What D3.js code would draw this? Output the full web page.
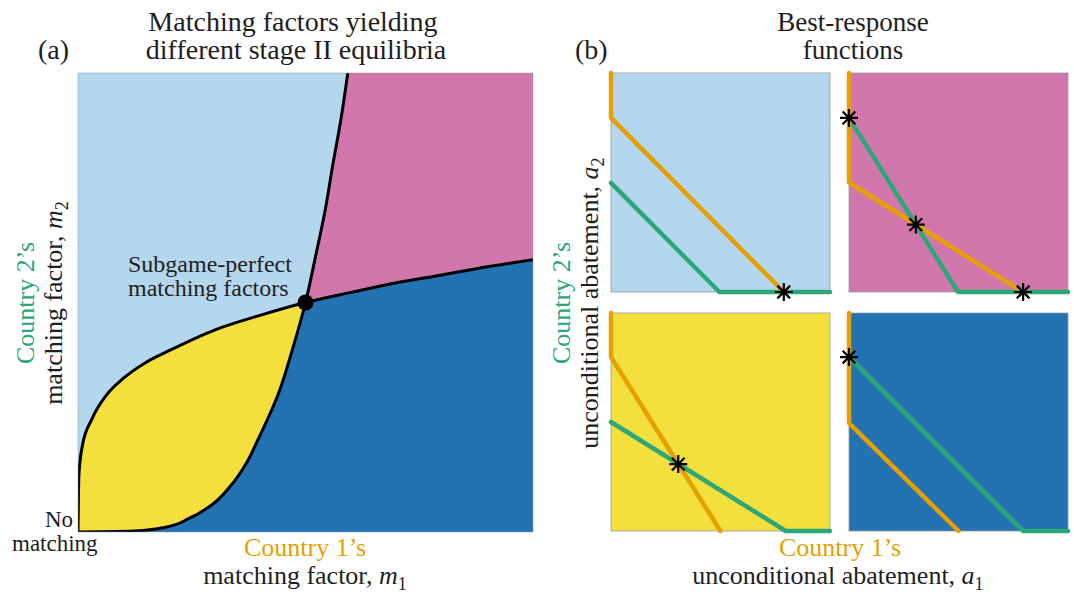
<!DOCTYPE html>
<html><head><meta charset="utf-8">
<script src="https://cdn.jsdelivr.net/npm/d3@7"></script>
<style>
body{margin:0;background:#fff}
text{font-family:"Liberation Serif","DejaVu Serif",serif;fill:#1e1e1e}
</style>
</head><body>
<svg id="c" width="1074" height="594"></svg>
<script>
// ---------- DATA ----------
// Panel (a): boundary curve as m2 vs m1; its mirror image is the other boundary
const boundaryM1 = [0, 0.002, 0.01, 0.03, 0.06, 0.1, 0.15, 0.2, 0.3, 0.4, 0.5, 0.6, 0.7, 0.8, 0.9, 1.0];
const boundaryM2 = [0, 0.125, 0.19, 0.245, 0.295, 0.335, 0.37, 0.395, 0.44, 0.472, 0.5, 0.522, 0.543, 0.56, 0.578, 0.593];
const spfM1 = 0.5, spfM2 = 0.5;

// Panel (b): four regimes (top-left, top-right, bottom-left, bottom-right)
const regimes = ["tl", "tr", "bl", "br"];
const br1A1 = [[0, 0, 0.789], [0, 0, 0.795], [0, 0, 0.5], [0, 0, 0.5]];      // Country 1 best response (a1)
const br1A2 = [[1, 0.795, 0], [1, 0.5, 0], [1, 0.798, 0], [1, 0.495, 0]];     // (a2)
const br2A1 = [[0, 0.495, 1], [0, 0.498, 1], [0, 0.798, 1], [0, 0.795, 1]];   // Country 2 best response (a1)
const br2A2 = [[0.498, 0, 0], [0.795, 0, 0], [0.5, 0, 0], [0.798, 0, 0]];     // (a2)
const eqA1 = [[0.789], [0, 0.305, 0.795], [0.307], [0]];
const eqA2 = [[0], [0.795, 0.308, 0], [0.307], [0.798]];

// ---------- STYLE ----------
const C = {lblue:"#b4d7ee", pink:"#d177ab", dblue:"#2372b1", yellow:"#f3e03c",
           orange:"#e69f00", green:"#2ca77a"};
const svg = d3.select("#c");

// ---------- PANEL (a) ----------
const xa = d3.scaleLinear().domain([0,1]).range([78,533]);
const ya = d3.scaleLinear().domain([0,1]).range([532,73]);
const B = boundaryM1.map((m,i)=>[m, boundaryM2[i]]);     // m2 = f(m1)
const A = boundaryM1.map((m,i)=>[boundaryM2[i], m]);     // mirror
const iS = boundaryM1.indexOf(spfM1);
const lineX = d3.line().x(d=>xa(d[0])).y(d=>ya(d[1])).curve(d3.curveMonotoneX);
const lineY = d3.line().x(d=>xa(d[0])).y(d=>ya(d[1])).curve(d3.curveMonotoneY);
const cont = s => s.replace(/^M/,"L");
const P = (x,y)=>`${xa(x)},${ya(y)}`;

svg.append("clipPath").attr("id","clipA").append("rect")
  .attr("x",xa(0)).attr("y",ya(1)).attr("width",xa(1)-xa(0)).attr("height",ya(0)-ya(1));
const ga = svg.append("g").attr("clip-path","url(#clipA)");
ga.append("rect").attr("x",xa(0)).attr("y",ya(1)).attr("width",xa(1)-xa(0)).attr("height",ya(0)-ya(1)).attr("fill",C.lblue);
ga.append("path").attr("fill",C.pink).attr("d",
  lineY(A.slice(iS)) + `L${P(1,1)}L${P(1,B[B.length-1][1])}` + cont(lineX(B.slice(iS).reverse())) + "Z");
ga.append("path").attr("fill",C.dblue).attr("d",
  lineY(A.slice(0,iS+1)) + cont(lineX(B.slice(iS))) + `L${P(1,0)}L${P(0,0)}Z`);
ga.append("path").attr("fill",C.yellow).attr("d",
  lineX(B.slice(0,iS+1)) + cont(lineY(A.slice(0,iS+1).reverse())) + "Z");
ga.append("path").attr("fill","none").attr("stroke","#000").attr("stroke-width",3).attr("d",lineX(B));
ga.append("path").attr("fill","none").attr("stroke","#000").attr("stroke-width",3).attr("d",lineY(A));
svg.append("rect").attr("x",xa(0)).attr("y",ya(1)).attr("width",xa(1)-xa(0)).attr("height",ya(0)-ya(1))
  .attr("fill","none").attr("stroke","#8c9aa4").attr("stroke-width",0.8).attr("stroke-opacity",0.6);
svg.append("circle").attr("cx",xa(spfM1)).attr("cy",ya(spfM2)).attr("r",8).attr("fill","#000");

// texts
function T(x,y,s,size,anchor,color){
  return svg.append("text").attr("x",x).attr("y",y).attr("font-size",size)
    .attr("text-anchor",anchor||"start").style("fill",color||"#1e1e1e").text(s);
}
function mathLabel(x,y,pre,v,sub,size,rot){
  const t = svg.append("text").attr("font-size",size).attr("text-anchor","middle")
    .attr("transform",`translate(${x},${y})${rot?" rotate(-90)":""}`);
  t.append("tspan").text(pre);
  t.append("tspan").attr("font-style","italic").text(v);
  t.append("tspan").attr("font-size",size*0.7).attr("dy",size*0.22).text(sub);
  return t;
}
T(38,59,"(a)",28);
T(293,31,"Matching factors yielding",28,"middle");
T(296,59,"different stage II equilibria",28,"middle");
T(128,272,"Subgame-perfect",24);
T(128,296,"matching factors",24);
T(73,527,"No",23,"end");
T(12,551,"matching",23);
T(305,556,"Country 1\u2019s",26,"middle",C.orange);
mathLabel(305,584,"matching factor, ","m","1",26,false);
svg.append("text").attr("font-size",26).attr("text-anchor","middle")
  .attr("transform","translate(34,303) rotate(-90)").style("fill",C.green).text("Country 2\u2019s");
mathLabel(62,303,"matching factor, ","m","2",26,true);

// ---------- PANEL (b) ----------
const boxes = {tl:[611,830,73,292], tr:[849,1068,73,292], bl:[611,830,313,531], br:[849,1068,313,531]};
const fills = {tl:C.lblue, tr:C.pink, bl:C.yellow, br:C.dblue};
function star(g,x,y,r){
  let d="";
  for(let k=0;k<4;k++){
    const a=k*Math.PI/4, dx=r*Math.cos(a), dy=r*Math.sin(a);
    d+=`M${x-dx},${y-dy}L${x+dx},${y+dy}`;
  }
  g.append("path").attr("d",d).attr("stroke","#000").attr("stroke-width",2.2).attr("fill","none");
}
regimes.forEach((r,i)=>{
  const [x0,x1,y0,y1] = boxes[r];
  const xs = d3.scaleLinear().domain([0,1]).range([x0,x1]);
  const ys = d3.scaleLinear().domain([0,1]).range([y1,y0]);
  const g = svg.append("g");
  g.append("rect").attr("x",x0).attr("y",y0).attr("width",x1-x0).attr("height",y1-y0)
    .attr("fill",fills[r]).attr("stroke","#9a9a9a").attr("stroke-width",0.8);
  const ln = d3.line().x(d=>xs(d[0])).y(d=>ys(d[1]));
  g.append("path").attr("d",ln(br2A1[i].map((a,j)=>[a,br2A2[i][j]])))
    .attr("fill","none").attr("stroke",C.green).attr("stroke-width",4.5).attr("stroke-linecap","round").attr("stroke-linejoin","round");
  g.append("path").attr("d",ln(br1A1[i].map((a,j)=>[a,br1A2[i][j]])))
    .attr("fill","none").attr("stroke",C.orange).attr("stroke-width",4.5).attr("stroke-linecap","round").attr("stroke-linejoin","round");
  eqA1[i].forEach((a,j)=>star(g,xs(a),ys(eqA2[i][j]),9));
});
T(575,59,"(b)",28);
T(853,31,"Best-response",27,"middle");
T(853,59,"functions",27,"middle");
T(840,556,"Country 1\u2019s",26,"middle",C.orange);
mathLabel(838,584,"unconditional abatement, ","a","1",26,false);
svg.append("text").attr("font-size",26).attr("text-anchor","middle")
  .attr("transform","translate(570,303) rotate(-90)").style("fill",C.green).text("Country 2\u2019s");
mathLabel(598,303,"unconditional abatement, ","a","2",26,true);
</script>
</body></html>
